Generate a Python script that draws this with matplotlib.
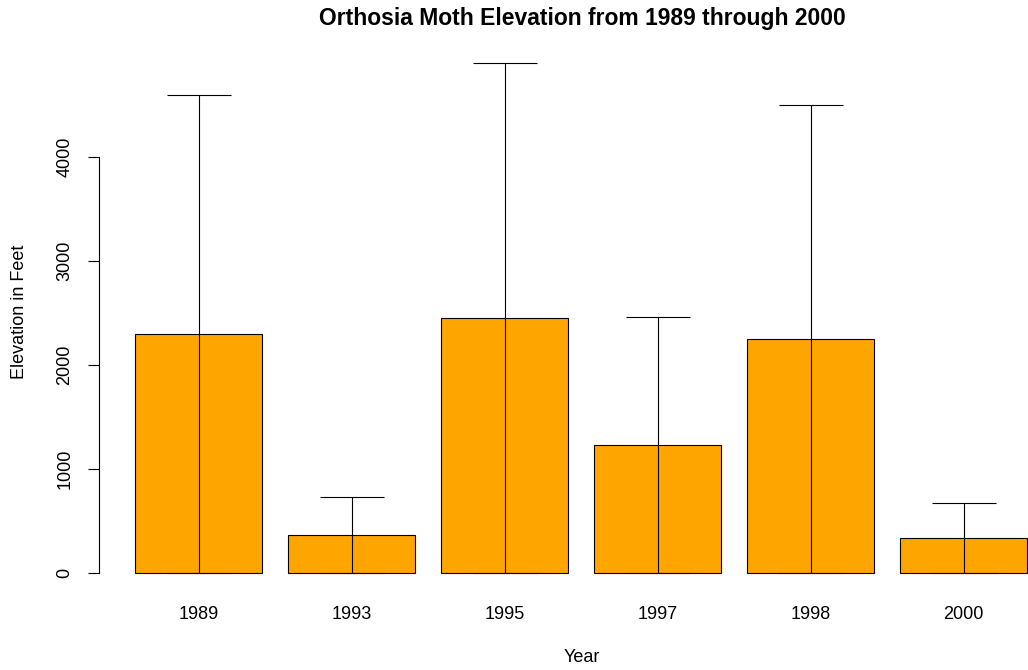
import matplotlib
matplotlib.use("Agg")
import matplotlib.pyplot as plt
import numpy as np

plt.rcParams['font.family'] = ['Liberation Sans', 'DejaVu Sans']

years = ["1989", "1993", "1995", "1997", "1998", "2000"]
mean_elev = [2300, 365, 2450, 1230, 2250, 335]
err_elev = [2300, 365, 2450, 1230, 2250, 335]
yticks = [0, 1000, 2000, 3000, 4000]

W, H = 1028, 670
fig = plt.figure(figsize=(W / 100, H / 100), dpi=100)

# plot region in pixels (extends past the right edge, as in the reference crop)
left_px, right_px, top_px, bottom_px = 99, 1063.2, 43, 593
ax = fig.add_axes([left_px / W, 1 - bottom_px / H,
                   (right_px - left_px) / W, (bottom_px - top_px) / H])

x = 0.7 + 1.2 * np.arange(len(years))
ax.bar(x, mean_elev, width=1.0, color="#FFA500", edgecolor="black",
       linewidth=0.8, zorder=2)
ax.errorbar(x, mean_elev, yerr=err_elev, fmt="none", ecolor="black",
            elinewidth=0.8, capsize=23, capthick=0.8, zorder=3)

ax.set_xlim(-0.082, 7.48)
ax.set_ylim(-192.3, 5096)

for s in ["top", "right", "bottom"]:
    ax.spines[s].set_visible(False)
ax.spines["left"].set_bounds(0, 4000)
ax.spines["left"].set_linewidth(0.8)

ax.set_yticks(yticks)
ax.set_yticklabels([str(v) for v in yticks], rotation=90, va="center",
                   fontsize=13)
ax.tick_params(axis="y", direction="out", length=8, width=0.8, pad=10.5)

ax.set_xticks(x)
ax.set_xticklabels(years, fontsize=13)
ax.tick_params(axis="x", length=0, pad=9.5)

fig.text(582 / W, 1 - 18 / H, "Orthosia Moth Elevation from 1989 through 2000",
         ha="center", va="center", fontsize=16.5, fontweight="bold")
fig.text(582 / W, 1 - 657 / H, "Year", ha="center", va="center", fontsize=13)
fig.text(20 / W, 1 - 312 / H, "Elevation in Feet", ha="center", va="center",
         rotation=90, fontsize=13)

fig.savefig("out.png", dpi=100)
